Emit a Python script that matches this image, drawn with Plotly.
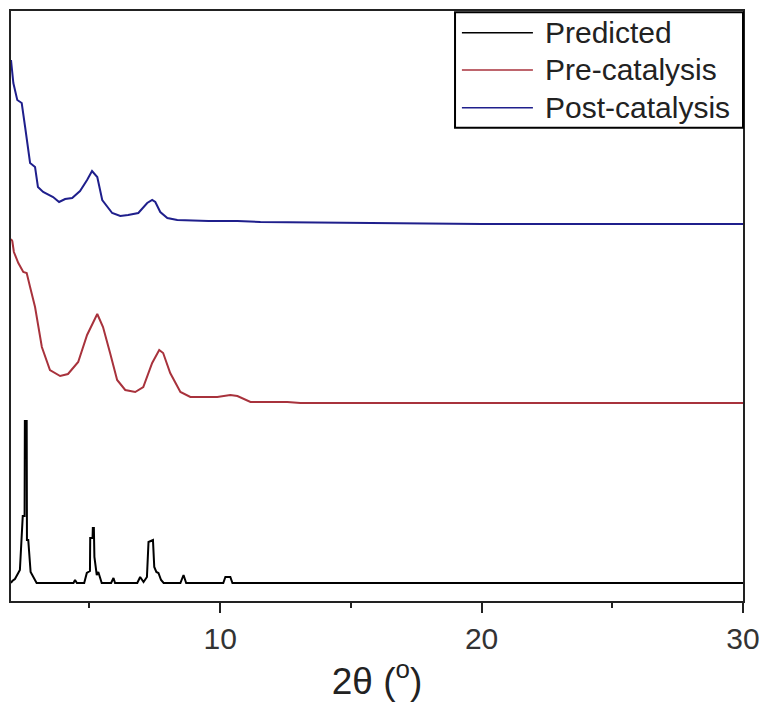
import plotly.graph_objects as go

# 2-theta (degrees) and stacked intensities (arb. units)
pred_x = [2.0, 2.05, 2.15, 2.34, 2.45, 2.52, 2.53, 2.60, 2.61, 2.66, 2.75, 2.98,
          4.39, 4.45, 4.52, 4.80, 4.90, 5.02, 5.03, 5.12, 5.13, 5.17, 5.19, 5.28, 5.34, 5.47,
          5.83, 5.92, 5.98, 6.83, 6.94, 7.07, 7.20, 7.26, 7.43, 7.48, 7.56, 7.64, 7.74, 7.84,
          8.48, 8.60, 8.70, 10.12, 10.20, 10.39, 10.47, 30.0]
pred_y = [18, 20, 22, 31, 85, 85, 180, 180, 61, 61, 29, 18,
          18, 21, 18, 18, 28, 30, 63, 63, 73, 73, 44, 26, 29, 18,
          18, 23, 18, 18, 24, 19, 24, 59, 61, 34, 29, 28, 21, 18,
          18, 26, 18, 18, 24, 24, 18, 18]

pre_x = [2.0, 2.05, 2.11, 2.28, 2.47, 2.60, 2.73, 2.92, 3.18, 3.49, 3.88, 4.18, 4.57, 4.91,
         5.30, 5.52, 5.79, 6.06, 6.37, 6.75, 7.06, 7.40, 7.67, 7.82, 8.09, 8.48, 8.86,
         9.89, 10.39, 10.66, 11.16, 12.57, 13.07, 20.0, 30.0]
pre_y = [362, 360, 349, 338, 329, 328, 314, 294, 254, 231, 225, 227, 239, 266,
         287, 274, 248, 221, 211, 209, 214, 238, 251, 248, 228, 209, 204,
         204, 206, 205, 199, 199, 198, 198, 198]

post_x = [2.0, 2.09, 2.24, 2.41, 2.54, 2.73, 2.92, 3.03, 3.23, 3.61, 3.84, 4.07, 4.34,
          4.64, 4.91, 5.10, 5.30, 5.49, 5.87, 6.18, 6.48, 6.87, 7.21, 7.40, 7.52, 7.71,
          7.98, 8.36, 9.55, 10.66, 11.54, 15.0, 20.0, 25.0, 30.0]
post_y = [541, 518, 501, 498, 474, 438, 434, 414, 409, 404, 399, 402, 403,
          410, 421, 430, 424, 401, 388, 385, 386, 388, 398, 401, 399, 389,
          383, 381, 380, 380, 379, 378, 377, 377, 377]

names = ["Predicted", "Pre-catalysis", "Post-catalysis"]
colors = ["#000000", "#a8323c", "#1f1f8c"]

fig = go.Figure()
for nm, xs, ys, c in zip(names, [pred_x, pre_x, post_x], [pred_y, pre_y, post_y], colors):
    fig.add_trace(go.Scatter(x=xs, y=ys, mode="lines", name=nm,
                             line=dict(color=c, width=2)))

# custom legend box (paper coordinates)
box_x0, box_x1, box_y0, box_y1 = 0.6066, 1.0, 0.802, 0.998
line_x0, line_x1, text_x = 0.616, 0.713, 0.727
row_y = [0.963, 0.900, 0.836]
fig.add_shape(type="rect", xref="paper", yref="paper", x0=box_x0, x1=box_x1,
              y0=box_y0, y1=box_y1, line=dict(color="black", width=2),
              fillcolor="white", layer="above")
for nm, c, ry in zip(names, colors, row_y):
    fig.add_shape(type="line", xref="paper", yref="paper", x0=line_x0, x1=line_x1,
                  y0=ry, y1=ry, line=dict(color=c, width=1.5), layer="above")
    fig.add_annotation(xref="paper", yref="paper", x=text_x, y=ry, text=nm,
                       showarrow=False, xanchor="left", yanchor="middle",
                       font=dict(size=30, color="#222"))

fig.update_layout(
    width=765, height=708,
    margin=dict(l=11, r=22, t=11, b=107),
    paper_bgcolor="white", plot_bgcolor="white",
    font=dict(family="Liberation Sans, Arial, sans-serif", color="#222"),
    showlegend=False,
)
fig.update_xaxes(range=[2, 30], tickvals=[10, 20, 30], ticks="outside", ticklen=10,
                 tickwidth=2, tickcolor="#222", showline=True, linewidth=2,
                 linecolor="#222", mirror=True, showgrid=False, zeroline=False,
                 automargin=False,
                 tickfont=dict(size=30, color="#333"),
                 minor=dict(tickvals=[5, 15, 25], ticks="outside", ticklen=5,
                            tickwidth=2, tickcolor="#222", showgrid=False),
                 title=dict(text="2θ (<sup>o</sup>)", font=dict(size=37, color="#222"),
                            standoff=14))
fig.update_yaxes(range=[0, 590], showticklabels=False, ticks="", showline=True,
                 linewidth=2, linecolor="#222", mirror=True, showgrid=False,
                 zeroline=False, automargin=False)

fig.write_html("out.html")
